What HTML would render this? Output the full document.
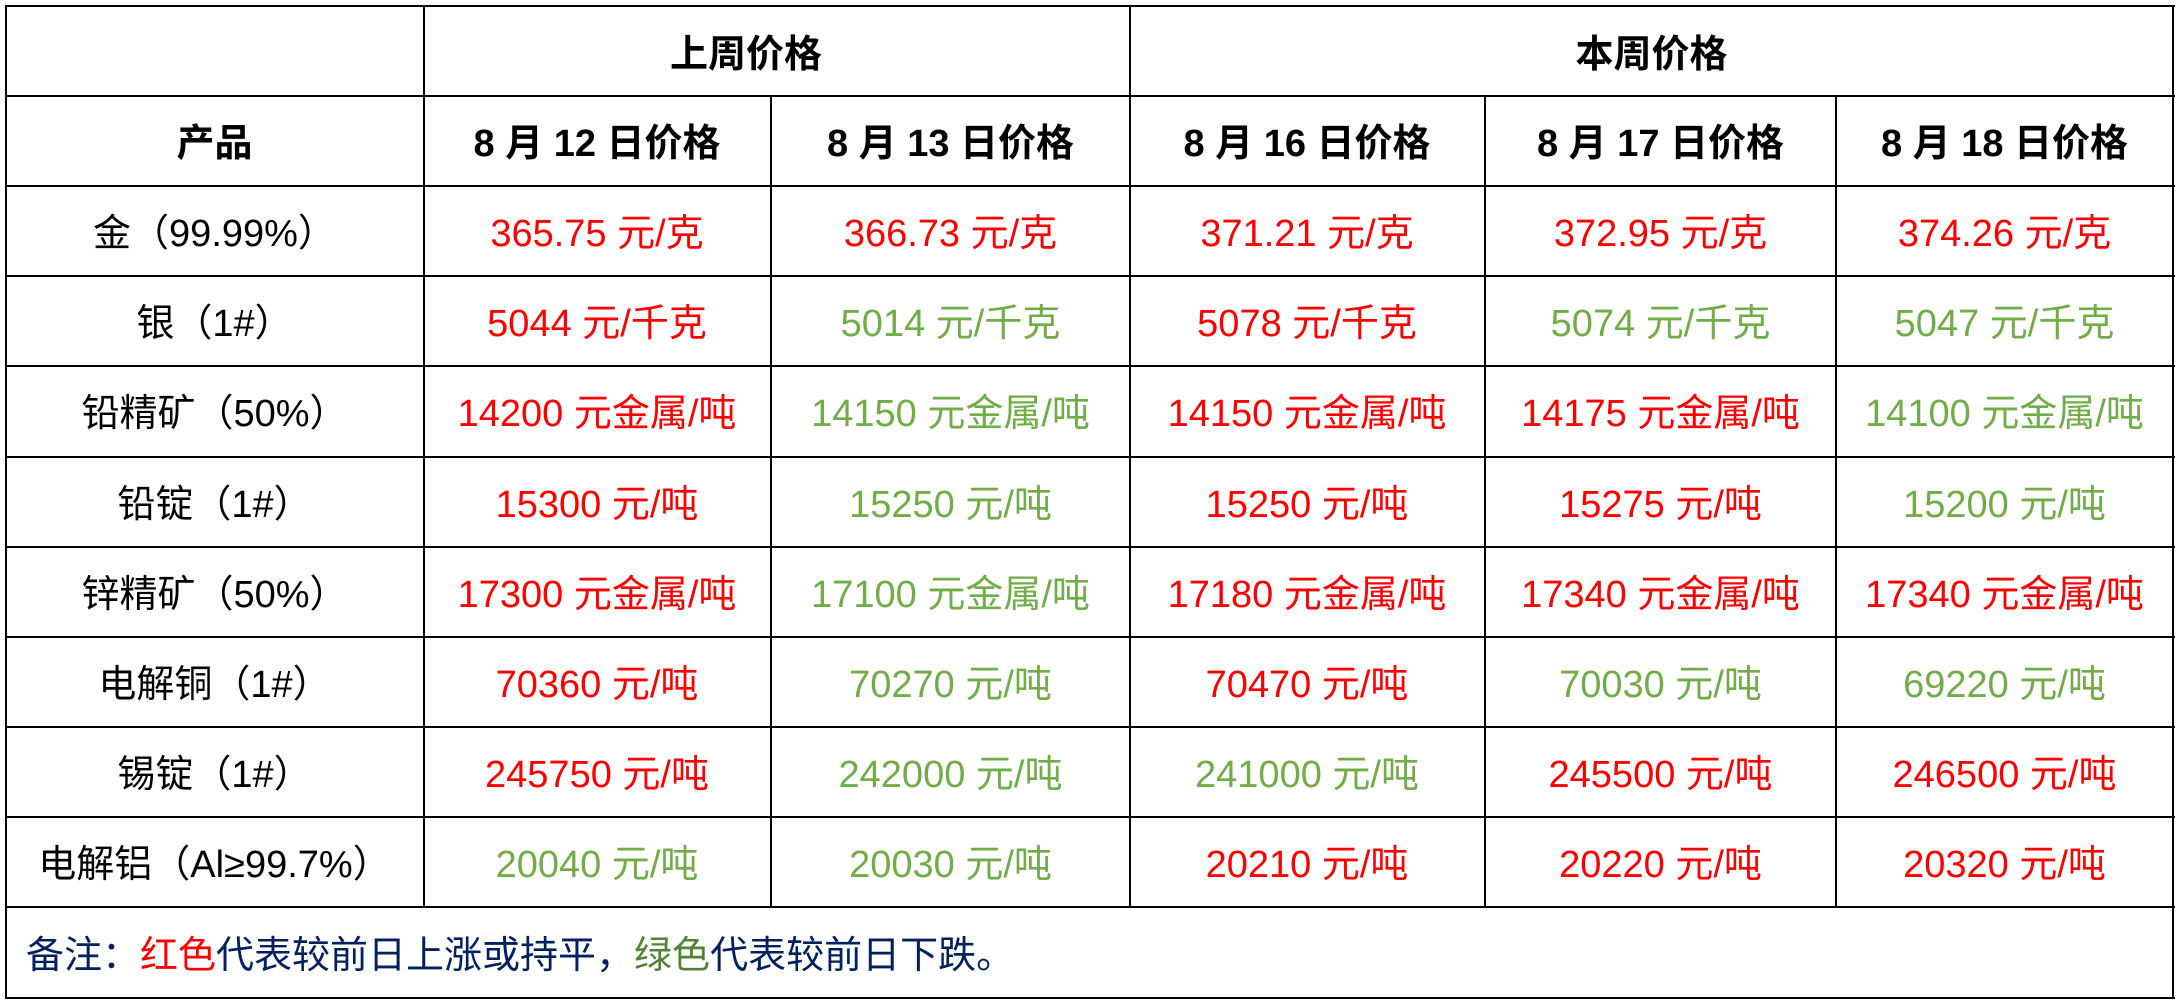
<!DOCTYPE html>
<html>
<head>
<meta charset="utf-8">
<style>
html,body{margin:0;padding:0;background:#fff;}
body{width:2180px;height:1000px;position:relative;overflow:hidden;font-family:"Liberation Sans","Noto Sans CJK SC",sans-serif;font-size:38px;color:#000;}
.h{position:absolute;height:2px;background:#000;}
.v{position:absolute;width:2px;background:#000;}
.c{position:absolute;text-align:center;white-space:nowrap;}
.b{font-weight:bold;}
.r{color:#ff0000;}
.g{color:#70ad47;}
</style>
</head>
<body>
<!-- horizontal lines -->
<div class="h" style="left:5px;width:2170px;top:5px;"></div>
<div class="h" style="left:5px;width:2170px;top:95px;"></div>
<div class="h" style="left:5px;width:2170px;top:185px;"></div>
<div class="h" style="left:5px;width:2170px;top:275px;"></div>
<div class="h" style="left:5px;width:2170px;top:365px;"></div>
<div class="h" style="left:5px;width:2170px;top:455.5px;"></div>
<div class="h" style="left:5px;width:2170px;top:545.5px;"></div>
<div class="h" style="left:5px;width:2170px;top:635.5px;"></div>
<div class="h" style="left:5px;width:2170px;top:726px;"></div>
<div class="h" style="left:5px;width:2170px;top:816px;"></div>
<div class="h" style="left:5px;width:2170px;top:906px;"></div>
<div class="h" style="left:5px;width:2170px;top:997px;"></div>
<!-- vertical lines -->
<div class="v" style="left:5px;top:5px;height:994px;"></div>
<div class="v" style="left:422.5px;top:5px;height:903px;"></div>
<div class="v" style="left:769.5px;top:95px;height:813px;"></div>
<div class="v" style="left:1129px;top:5px;height:903px;"></div>
<div class="v" style="left:1483.5px;top:95px;height:813px;"></div>
<div class="v" style="left:1835px;top:95px;height:813px;"></div>
<div class="v" style="left:2172px;top:5px;height:994px;"></div>

<!-- header row 0 -->
<div class="c b" style="left:670px;top:10px;height:90px;line-height:90px;text-align:left;">上周价格</div>
<div class="c b" style="left:1130px;width:1043px;top:10px;height:90px;line-height:90px;">本周价格</div>

<!-- header row 1 -->
<div class="c b" style="left:6px;width:417px;top:99px;line-height:90px;">产品</div>
<div class="c b" style="left:424px;width:346px;top:99px;line-height:90px;">8 月 12 日价格</div>
<div class="c b" style="left:771px;width:359px;top:99px;line-height:90px;">8 月 13 日价格</div>
<div class="c b" style="left:1130px;width:354px;top:99px;line-height:90px;">8 月 16 日价格</div>
<div class="c b" style="left:1485px;width:351px;top:99px;line-height:90px;">8 月 17 日价格</div>
<div class="c b" style="left:1836px;width:337px;top:99px;line-height:90px;">8 月 18 日价格</div>

<!-- row 金 -->
<div class="c" style="left:6px;width:417px;top:189px;line-height:90px;">金（99.99%）</div>
<div class="c r" style="left:424px;width:346px;top:189px;line-height:90px;">365.75 元/克</div>
<div class="c r" style="left:771px;width:359px;top:189px;line-height:90px;">366.73 元/克</div>
<div class="c r" style="left:1130px;width:354px;top:189px;line-height:90px;">371.21 元/克</div>
<div class="c r" style="left:1485px;width:351px;top:189px;line-height:90px;">372.95 元/克</div>
<div class="c r" style="left:1836px;width:337px;top:189px;line-height:90px;">374.26 元/克</div>

<!-- row 银 -->
<div class="c" style="left:6px;width:417px;top:279px;line-height:90px;">银（1#）</div>
<div class="c r" style="left:424px;width:346px;top:279px;line-height:90px;">5044 元/千克</div>
<div class="c g" style="left:771px;width:359px;top:279px;line-height:90px;">5014 元/千克</div>
<div class="c r" style="left:1130px;width:354px;top:279px;line-height:90px;">5078 元/千克</div>
<div class="c g" style="left:1485px;width:351px;top:279px;line-height:90px;">5074 元/千克</div>
<div class="c g" style="left:1836px;width:337px;top:279px;line-height:90px;">5047 元/千克</div>

<!-- row 铅精矿 -->
<div class="c" style="left:6px;width:417px;top:369px;line-height:90px;">铅精矿（50%）</div>
<div class="c r" style="left:424px;width:346px;top:369px;line-height:90px;">14200 元金属/吨</div>
<div class="c g" style="left:771px;width:359px;top:369px;line-height:90px;">14150 元金属/吨</div>
<div class="c r" style="left:1130px;width:354px;top:369px;line-height:90px;">14150 元金属/吨</div>
<div class="c r" style="left:1485px;width:351px;top:369px;line-height:90px;">14175 元金属/吨</div>
<div class="c g" style="left:1836px;width:337px;top:369px;line-height:90px;">14100 元金属/吨</div>

<!-- row 铅锭 -->
<div class="c" style="left:6px;width:417px;top:459.5px;line-height:90px;">铅锭（1#）</div>
<div class="c r" style="left:424px;width:346px;top:459.5px;line-height:90px;">15300 元/吨</div>
<div class="c g" style="left:771px;width:359px;top:459.5px;line-height:90px;">15250 元/吨</div>
<div class="c r" style="left:1130px;width:354px;top:459.5px;line-height:90px;">15250 元/吨</div>
<div class="c r" style="left:1485px;width:351px;top:459.5px;line-height:90px;">15275 元/吨</div>
<div class="c g" style="left:1836px;width:337px;top:459.5px;line-height:90px;">15200 元/吨</div>

<!-- row 锌精矿 -->
<div class="c" style="left:6px;width:417px;top:549.5px;line-height:90px;">锌精矿（50%）</div>
<div class="c r" style="left:424px;width:346px;top:549.5px;line-height:90px;">17300 元金属/吨</div>
<div class="c g" style="left:771px;width:359px;top:549.5px;line-height:90px;">17100 元金属/吨</div>
<div class="c r" style="left:1130px;width:354px;top:549.5px;line-height:90px;">17180 元金属/吨</div>
<div class="c r" style="left:1485px;width:351px;top:549.5px;line-height:90px;">17340 元金属/吨</div>
<div class="c r" style="left:1836px;width:337px;top:549.5px;line-height:90px;">17340 元金属/吨</div>

<!-- row 电解铜 -->
<div class="c" style="left:6px;width:417px;top:639.5px;line-height:90px;">电解铜（1#）</div>
<div class="c r" style="left:424px;width:346px;top:639.5px;line-height:90px;">70360 元/吨</div>
<div class="c g" style="left:771px;width:359px;top:639.5px;line-height:90px;">70270 元/吨</div>
<div class="c r" style="left:1130px;width:354px;top:639.5px;line-height:90px;">70470 元/吨</div>
<div class="c g" style="left:1485px;width:351px;top:639.5px;line-height:90px;">70030 元/吨</div>
<div class="c g" style="left:1836px;width:337px;top:639.5px;line-height:90px;">69220 元/吨</div>

<!-- row 锡锭 -->
<div class="c" style="left:6px;width:417px;top:730px;line-height:90px;">锡锭（1#）</div>
<div class="c r" style="left:424px;width:346px;top:730px;line-height:90px;">245750 元/吨</div>
<div class="c g" style="left:771px;width:359px;top:730px;line-height:90px;">242000 元/吨</div>
<div class="c g" style="left:1130px;width:354px;top:730px;line-height:90px;">241000 元/吨</div>
<div class="c r" style="left:1485px;width:351px;top:730px;line-height:90px;">245500 元/吨</div>
<div class="c r" style="left:1836px;width:337px;top:730px;line-height:90px;">246500 元/吨</div>

<!-- row 电解铝 -->
<div class="c" style="left:6px;width:417px;top:820px;line-height:90px;">电解铝（Al≥99.7%）</div>
<div class="c g" style="left:424px;width:346px;top:820px;line-height:90px;">20040 元/吨</div>
<div class="c g" style="left:771px;width:359px;top:820px;line-height:90px;">20030 元/吨</div>
<div class="c r" style="left:1130px;width:354px;top:820px;line-height:90px;">20210 元/吨</div>
<div class="c r" style="left:1485px;width:351px;top:820px;line-height:90px;">20220 元/吨</div>
<div class="c r" style="left:1836px;width:337px;top:820px;line-height:90px;">20320 元/吨</div>

<!-- footer -->
<div class="c" style="left:26px;top:911px;line-height:90px;text-align:left;color:#002060;">备注：<span style="color:#ff0000;">红色</span>代表较前日上涨或持平，<span style="color:#548235;">绿色</span>代表较前日下跌。</div>
</body>
</html>
